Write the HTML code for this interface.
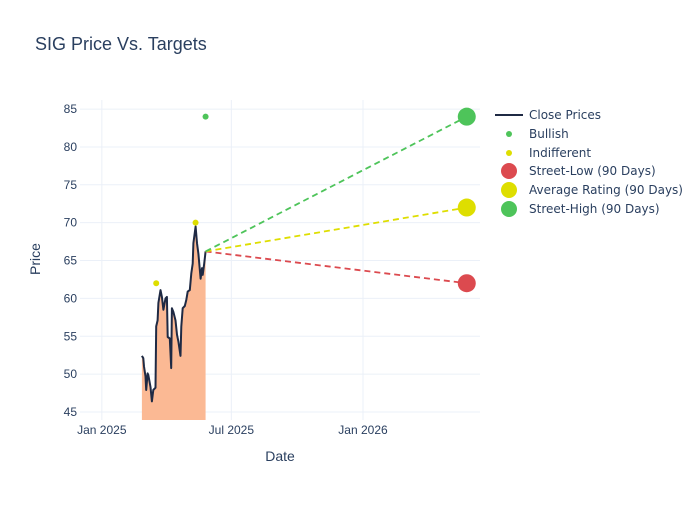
<!DOCTYPE html>
<html><head><meta charset="utf-8"><style>
body{margin:0;background:#fff;}
svg{font-family:"Liberation Sans","DejaVu Sans",sans-serif;}
</style></head><body>
<svg id="chart" width="700" height="500">
<text x="35" y="50" font-size="18" fill="#2a3f5f">SIG Price Vs. Targets</text>
<g id="grid"></g>
<g id="plot"></g>
<g id="axes"></g>
<text x="280" y="461" font-size="14" fill="#2a3f5f" text-anchor="middle">Date</text>
<text x="40" y="259" font-size="14" fill="#2a3f5f" text-anchor="middle" transform="rotate(-90 40 259)">Price</text>
<g id="legend"></g>
</svg>
<script>
const priceDates=["2025-02-26","2025-02-28","2025-03-01","2025-03-03","2025-03-04","2025-03-06","2025-03-07","2025-03-10","2025-03-12","2025-03-14","2025-03-17","2025-03-18","2025-03-20","2025-03-21","2025-03-24","2025-03-26","2025-03-28","2025-03-31","2025-04-02","2025-04-03","2025-04-06","2025-04-08","2025-04-09","2025-04-11","2025-04-14","2025-04-16","2025-04-18","2025-04-21","2025-04-22","2025-04-24","2025-04-27","2025-04-29","2025-05-01","2025-05-04","2025-05-06","2025-05-08","2025-05-09","2025-05-12","2025-05-14","2025-05-16","2025-05-19","2025-05-21","2025-05-22","2025-05-24","2025-05-26"];
const closePrices=[52.4,52.1,51,49.7,47.9,50.1,49.9,48.3,46.4,47.9,48.2,56.3,57.1,59.4,61.1,60.2,58.5,60,60.2,54.9,54.7,50.8,58.7,58.2,57.1,55.2,54.3,52.4,56.3,58.7,59,59.8,60.9,61.1,63.3,64.6,67.3,69.5,67.3,65.9,62.6,64,63.1,64.6,66.2];
const bullishDates=["2025-05-26"];
const bullishValues=[84];
const indifferentDates=["2025-03-18","2025-05-12"];
const indifferentValues=[62,70];
const targetDate="2026-05-26";
const targetLabels=["Street-Low (90 Days)","Average Rating (90 Days)","Street-High (90 Days)"];
const targetValues=[62,72,84];
const targetColors=["#dc4a4f","#dede00","#4ec45a"];
const yTicks=[45,50,55,60,65,70,75,80,85];
const xTickDates=["2025-01-01","2025-07-01","2026-01-01"];
const xTickLabels=["Jan 2025","Jul 2025","Jan 2026"];

const NS="http://www.w3.org/2000/svg";
const L=80,R=480,T=100,B=420;
const d0=Date.UTC(2025,0,1);
const day=s=>{const[a,b,c]=s.split("-").map(Number);return (Date.UTC(a,b-1,c)-d0)/864e5;};
const xMin=-30.5,xMax=528.5;
const yMin=43.94,yMax=86.2;
const X=s=>L+(day(s)-xMin)/(xMax-xMin)*(R-L);
const Y=v=>B-(v-yMin)/(yMax-yMin)*(B-T);
function mk(tag,attrs,parent){const e=document.createElementNS(NS,tag);for(const k in attrs)e.setAttribute(k,attrs[k]);parent.appendChild(e);return e;}
const grid=document.getElementById("grid"),plot=document.getElementById("plot"),axes=document.getElementById("axes"),legend=document.getElementById("legend");

yTicks.forEach(v=>{
 const l=mk("line",{x1:L,x2:R,y1:Y(v),y2:Y(v),stroke:"#ebf0f8","stroke-width":1},grid);
 
 
 const t=mk("text",{x:L-3,y:Y(v)+4,"font-size":12,fill:"#2a3f5f","text-anchor":"end"},axes);
 t.textContent=v;
 
 
});
xTickDates.forEach((d,i)=>{
 const l=mk("line",{x1:X(d),x2:X(d),y1:T,y2:B,stroke:"#ebf0f8","stroke-width":1},grid);
 
 
 const t=mk("text",{x:X(d),y:B+14,"font-size":12,fill:"#2a3f5f","text-anchor":"middle"},axes);
 t.textContent=xTickLabels[i];
 
 
});

let pts=priceDates.map((d,i)=>X(d).toFixed(1)+","+Y(closePrices[i]).toFixed(1));
const area=mk("polygon",{points:X(priceDates[0])+","+B+" "+pts.join(" ")+" "+X(priceDates[priceDates.length-1])+","+B,fill:"#fbb994",stroke:"none"},plot);


const line=mk("polyline",{points:pts.join(" "),fill:"none",stroke:"#1f2a44","stroke-width":2,"stroke-linejoin":"round"},plot);



const lastD=priceDates[priceDates.length-1],lastV=closePrices[closePrices.length-1];
targetValues.forEach((v,i)=>{
 const l=mk("line",{x1:X(lastD),y1:Y(lastV),x2:X(targetDate),y2:Y(v),stroke:targetColors[i],"stroke-width":1.8,"stroke-dasharray":"6,4"},plot);
 
 
});
targetValues.forEach((v,i)=>{
 const c=mk("circle",{cx:X(targetDate),cy:Y(v),r:9,fill:targetColors[i]},plot);
 
 
});
bullishDates.forEach((d,i)=>{
 const c=mk("circle",{cx:X(d),cy:Y(bullishValues[i]),r:3,fill:"#4ec45a"},plot);
 
 
});
indifferentDates.forEach((d,i)=>{
 const c=mk("circle",{cx:X(d),cy:Y(indifferentValues[i]),r:3,fill:"#dede00"},plot);
 
 
});

const legItems=[["Close Prices","line","#1f2a44"],["Bullish","s","#4ec45a"],["Indifferent","s","#dede00"],[targetLabels[0],"b",targetColors[0]],[targetLabels[1],"b",targetColors[1]],[targetLabels[2],"b",targetColors[2]]];
const legY=[115,134,153,171,190,209];
legItems.forEach((it,i)=>{
 const g=mk("g",{},legend);
 
 
 const y=legY[i];
 if(it[1]=="line")mk("line",{x1:495,x2:523,y1:y,y2:y,stroke:it[2],"stroke-width":2},g);
 else mk("circle",{cx:509,cy:y,r:it[1]=="s"?3:8,fill:it[2]},g);
 const t=mk("text",{x:529,y:y+4,"font-size":12,fill:"#2a3f5f","font-family":"DejaVu Sans, sans-serif"},g);
 t.textContent=it[0];
});
</script>
</body></html>
